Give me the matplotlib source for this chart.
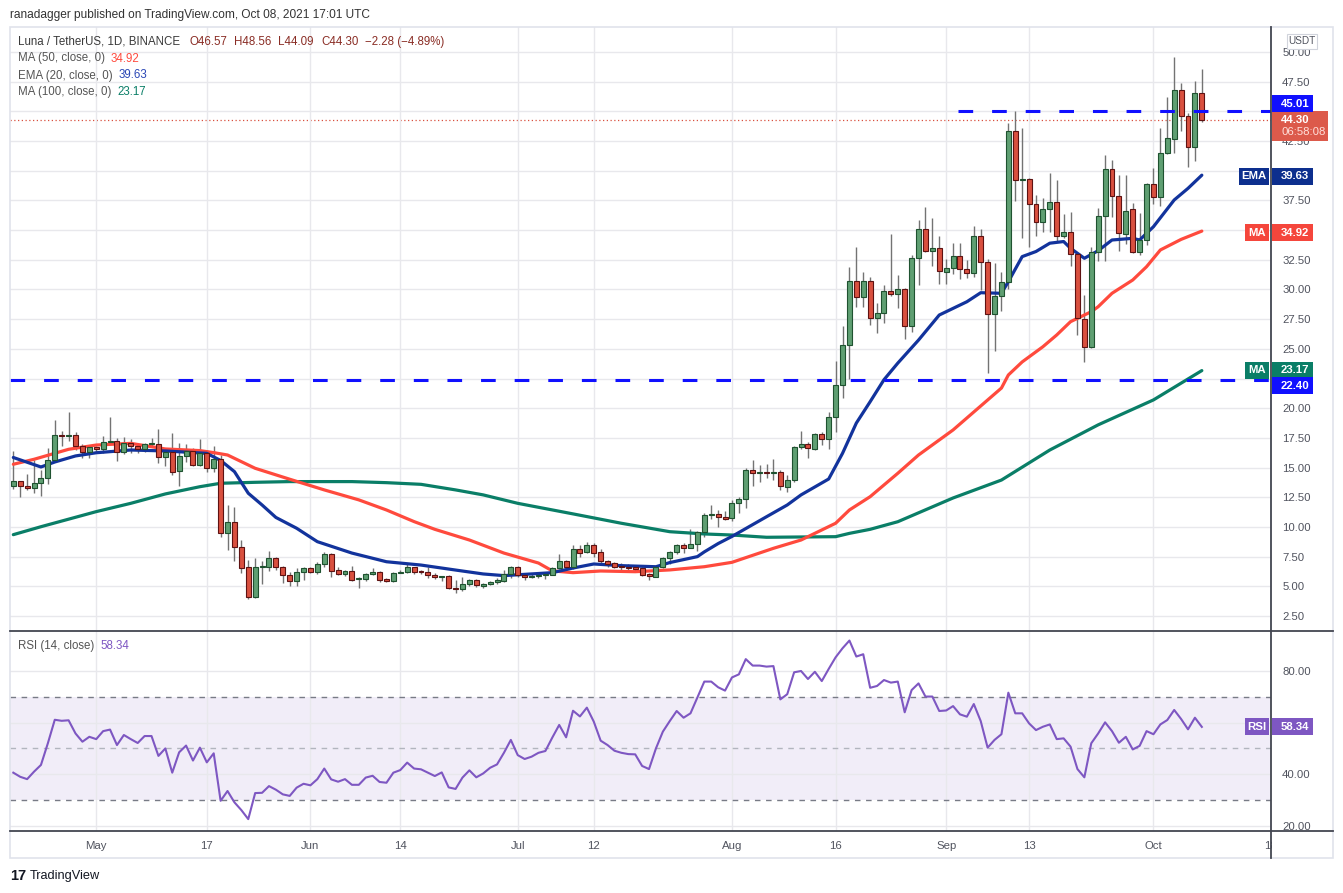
import matplotlib
matplotlib.use('Agg')
import matplotlib.pyplot as plt
from matplotlib.patches import Rectangle
from matplotlib.lines import Line2D
import numpy as np
import pandas as pd

W, H = 1343, 893
plt.rcParams['font.family'] = ['Liberation Sans', 'DejaVu Sans']

# daily candles, Apr 19 - Oct 8 2021
dates = pd.date_range('2021-04-19', '2021-10-08', freq='D')

opens = [13.42, 13.84, 13.42, 13.25, 13.67, 14.09, 15.61, 17.71, 17.63, 17.71,
         16.79, 16.28, 16.70, 16.54, 17.12, 17.27, 16.28, 17.04, 16.79, 16.54,
         16.96, 16.96, 15.86, 16.28, 14.68, 15.95, 16.37, 15.19, 16.20, 14.94,
         15.70, 9.46, 10.39, 8.29, 6.60, 4.08, 6.66, 6.66, 7.36, 6.66,
         5.96, 5.48, 6.18, 6.52, 6.24, 6.88, 7.70, 6.38, 6.01, 6.29,
         5.60, 5.59, 6.01, 6.18, 5.59, 5.48, 6.10, 6.18, 6.60, 6.24,
         6.24, 5.96, 5.76, 5.88, 4.83, 4.75, 5.17, 5.54, 5.06, 5.17,
         5.40, 5.48, 6.01, 6.63, 5.96, 5.82, 5.88, 5.93, 5.99, 6.52,
         7.10, 6.66, 8.12, 7.87, 8.45, 7.87, 7.10, 6.94, 6.74, 6.66,
         6.55, 6.55, 6.04, 5.82, 6.60, 7.36, 7.87, 8.45, 8.26, 8.54,
         9.55, 11.00, 11.07, 10.84, 10.72, 11.99, 12.33, 14.80, 14.56, 14.62,
         14.56, 14.60, 13.39, 13.95, 16.71, 16.99, 16.60, 17.83, 17.38, 19.23,
         21.96, 25.30, 30.74, 29.40, 30.69, 27.57, 28.00, 29.90, 29.60, 30.04,
         26.96, 32.63, 35.07, 33.27, 33.47, 31.50, 31.78, 32.82, 31.70, 31.36,
         34.50, 32.29, 27.91, 29.45, 30.60, 43.32, 39.22, 39.28, 37.17, 35.66,
         36.75, 37.40, 34.50, 34.81, 32.96, 27.49, 25.13, 33.19, 36.19, 40.12,
         37.87, 34.65, 36.75, 33.13, 34.17, 38.88, 37.76, 41.47, 42.70, 46.80,
         44.64, 42.00, 46.57]
highs = [16.40, 13.90, 14.46, 15.64, 14.80, 16.62, 19.00, 18.08, 19.68, 18.00,
         16.98, 16.80, 16.80, 17.66, 19.23, 17.46, 17.55, 17.43, 17.04, 17.10,
         17.46, 18.25, 16.48, 17.90, 17.07, 16.98, 16.62, 17.40, 16.48, 16.82,
         16.06, 11.85, 11.70, 8.90, 7.22, 7.36, 7.17, 7.98, 7.45, 6.72,
         6.18, 6.52, 6.66, 6.66, 7.08, 7.87, 7.78, 6.66, 6.38, 6.72,
         5.82, 6.15, 6.52, 6.29, 5.68, 6.24, 6.38, 6.94, 6.66, 6.38,
         6.60, 6.10, 5.88, 5.96, 5.54, 5.82, 5.59, 5.59, 5.25, 5.48,
         5.68, 6.38, 6.72, 6.72, 6.04, 6.04, 6.24, 6.24, 6.66, 7.73,
         7.22, 8.48, 8.48, 8.76, 8.62, 8.15, 7.22, 7.08, 6.99, 6.85,
         6.80, 6.66, 6.15, 6.66, 7.50, 7.98, 8.57, 8.62, 9.83, 9.69,
         11.15, 11.82, 11.43, 11.38, 12.27, 12.55, 14.94, 15.64, 15.22, 15.30,
         15.72, 14.80, 14.37, 16.85, 18.08, 17.13, 17.90, 18.02, 19.71, 24.00,
         26.93, 31.92, 33.60, 31.50, 31.08, 28.83, 30.38, 34.70, 31.20, 30.10,
         32.90, 35.85, 36.97, 36.00, 34.50, 32.54, 33.89, 33.89, 32.48, 35.35,
         35.10, 32.60, 32.20, 31.50, 43.99, 45.03, 43.57, 39.36, 38.00, 37.68,
         39.78, 39.22, 36.33, 36.53, 33.10, 29.54, 33.60, 36.83, 41.33, 40.90,
         39.64, 39.64, 37.26, 36.41, 39.00, 40.20, 43.57, 46.24, 49.60, 47.36,
         44.89, 47.59, 48.56]
lows = [13.17, 12.55, 13.10, 12.90, 12.63, 13.60, 15.60, 16.85, 17.20, 16.50,
        15.78, 15.78, 16.20, 16.20, 17.10, 15.58, 16.14, 16.20, 16.20, 16.34,
        16.85, 15.40, 15.16, 14.37, 13.48, 15.50, 15.13, 15.16, 14.65, 14.65,
        9.12, 8.10, 7.16, 6.10, 3.90, 4.00, 5.17, 6.32, 6.38, 5.31,
        5.06, 5.06, 5.54, 6.10, 6.04, 6.66, 5.82, 5.96, 5.90, 5.45,
        4.89, 5.45, 5.96, 5.40, 5.34, 5.40, 6.10, 6.10, 6.04, 6.04,
        5.68, 5.62, 5.48, 4.75, 4.47, 4.64, 5.06, 4.98, 4.83, 5.12,
        5.20, 5.40, 5.73, 5.82, 5.54, 5.68, 5.68, 5.59, 5.96, 6.43,
        6.38, 6.43, 7.45, 7.78, 7.50, 6.99, 6.60, 6.52, 6.24, 6.24,
        6.32, 5.88, 5.54, 5.76, 6.55, 6.88, 7.73, 7.78, 8.20, 8.00,
        9.13, 10.64, 10.03, 10.59, 10.53, 11.15, 11.60, 13.48, 13.76, 14.15,
        13.95, 13.10, 12.97, 13.76, 16.57, 15.84, 16.50, 16.90, 16.54, 18.03,
        20.83, 22.50, 28.55, 28.55, 27.00, 26.30, 27.20, 29.45, 28.40, 25.80,
        26.40, 30.38, 33.20, 31.98, 30.46, 30.46, 31.30, 30.88, 30.94, 31.08,
        29.96, 22.94, 24.85, 28.20, 30.00, 37.48, 34.30, 33.61, 34.53, 34.87,
        34.87, 34.03, 34.31, 31.98, 26.17, 23.92, 25.05, 32.43, 32.43, 36.13,
        33.27, 33.83, 33.05, 32.91, 33.75, 37.20, 37.06, 41.41, 41.52, 43.37,
        40.34, 40.85, 44.09]
closes = [13.87, 13.42, 13.25, 13.67, 14.09, 15.61, 17.71, 17.63, 17.71, 16.79,
          16.28, 16.70, 16.54, 17.12, 17.21, 16.28, 17.04, 16.79, 16.54, 16.96,
          16.99, 15.86, 16.28, 14.60, 15.95, 16.37, 15.19, 16.20, 14.94, 15.70,
          9.46, 10.39, 8.28, 6.52, 4.08, 6.66, 6.72, 7.36, 6.66, 5.96,
          5.48, 6.18, 6.52, 6.24, 6.88, 7.70, 6.32, 6.01, 6.29, 5.54,
          5.66, 6.01, 6.18, 5.54, 5.48, 6.10, 6.24, 6.60, 6.18, 6.18,
          5.96, 5.76, 5.82, 4.83, 4.75, 5.17, 5.54, 5.09, 5.17, 5.40,
          5.50, 6.01, 6.63, 5.93, 5.79, 5.88, 5.96, 6.04, 6.52, 7.10,
          6.66, 8.12, 7.84, 8.45, 7.84, 7.10, 6.88, 6.66, 6.60, 6.52,
          6.50, 5.96, 5.85, 6.60, 7.39, 7.90, 8.45, 8.26, 8.57, 9.55,
          11.01, 11.07, 10.87, 10.67, 11.99, 12.33, 14.80, 14.52, 14.62, 14.56,
          14.62, 13.42, 13.95, 16.71, 16.99, 16.63, 17.80, 17.38, 19.23, 21.96,
          25.30, 30.69, 29.40, 30.69, 27.57, 28.00, 29.90, 29.60, 30.04, 26.96,
          32.63, 35.07, 33.27, 33.47, 31.59, 31.78, 32.82, 31.70, 31.36, 34.50,
          32.34, 27.91, 29.45, 30.60, 43.32, 39.22, 39.28, 37.17, 35.66, 36.75,
          37.40, 34.50, 34.81, 32.99, 27.57, 25.13, 33.19, 36.19, 40.12, 37.87,
          34.79, 36.64, 33.13, 34.17, 38.88, 37.76, 41.47, 42.79, 46.80, 44.64,
          42.03, 46.58, 44.30]

rsi = [40.6, 39.0, 38.1, 41.0, 43.6, 52.0, 61.1, 60.7, 60.9, 55.8,
       52.6, 54.5, 53.6, 56.7, 57.3, 51.3, 55.2, 53.6, 52.1, 54.8,
       54.8, 47.1, 50.0, 40.6, 48.5, 51.1, 45.3, 50.3, 44.6, 48.1,
       29.7, 33.5, 29.1, 26.1, 22.6, 32.7, 32.8, 35.4, 34.0, 32.2,
       31.6, 34.8, 36.3, 35.7, 38.1, 42.2, 38.0, 37.1, 38.1, 35.9,
       35.9, 38.7, 39.4, 37.0, 36.7, 40.6, 41.6, 44.5, 42.2, 41.9,
       40.6, 39.3, 40.7, 34.9, 34.3, 38.7, 41.5, 38.8, 40.3, 42.5,
       43.8, 48.3, 53.3, 47.4, 45.9, 46.8, 48.3, 49.0, 54.2, 59.1,
       54.3, 64.6, 62.4, 65.8, 60.4, 53.0, 51.3, 49.1, 48.3, 47.8,
       47.7, 43.2, 42.0, 50.0, 56.5, 60.6, 64.5, 61.9, 63.6, 69.7,
       75.9, 75.9, 73.7, 72.4, 77.5, 78.7, 84.6, 82.1, 82.1, 81.7,
       81.9, 69.0, 71.0, 79.5, 80.0, 76.9, 79.7, 76.1, 80.8, 85.3,
       88.8, 91.8, 85.6, 86.5, 73.5, 74.2, 76.5, 75.5, 75.9, 64.0,
       72.6, 75.2, 70.1, 70.1, 64.5, 64.7, 66.4, 63.2, 62.3, 67.2,
       60.6, 50.3, 53.3, 55.5, 71.6, 63.6, 63.6, 59.7, 57.1, 58.4,
       59.3, 53.6, 53.9, 50.7, 42.0, 38.8, 52.0, 55.8, 60.1, 56.7,
       52.2, 54.5, 49.6, 51.0, 56.7, 55.5, 59.3, 61.0, 64.9, 61.4,
       57.4, 61.9, 58.34]

# moving averages (day index, value)
ema20_idx = [0, 4, 6, 9, 12, 17, 22, 28, 30, 32, 34, 36, 38, 41, 44, 49, 54, 59,
             64, 68, 71, 78, 81, 84, 88, 93, 95, 99, 100, 102, 104, 109, 112, 114,
             118, 120, 122, 124, 126, 128, 131, 134, 138, 140, 143, 144, 146, 148,
             150, 152, 153, 155, 157, 159, 162, 163, 165, 168, 170, 172]
ema20_val = [15.85, 15.05, 15.47, 15.98, 16.25, 16.48, 16.40, 16.20, 15.60, 14.66,
             12.84, 11.85, 10.80, 9.89, 8.76, 7.80, 7.07, 6.79, 6.37, 6.04,
             5.90, 6.15, 6.54, 6.88, 6.74, 6.65, 7.00, 7.50, 7.90, 8.60,
             9.20, 10.86, 11.85, 12.70, 14.04, 16.20, 18.75, 20.55, 22.40, 23.80,
             25.74, 27.85, 28.97, 29.73, 29.68, 30.66, 32.77, 33.20, 33.90, 34.04,
             33.47, 32.63, 33.27, 34.17, 34.31, 34.17, 35.29, 37.54, 38.52, 39.63]
ma50_idx = [0, 3, 8, 12, 17, 22, 27, 29, 31, 35, 40, 45, 50, 54, 58, 61, 66, 71,
            76, 78, 81, 85, 90, 95, 100, 104, 110, 114, 119, 121, 124, 128, 131,
            136, 143, 144, 146, 149, 151, 153, 156, 157, 159, 162, 164, 166, 169, 172]
ma50_val = [15.28, 15.70, 16.54, 16.90, 17.04, 16.57, 16.43, 16.26, 16.06, 14.94,
            14.02, 13.12, 12.28, 11.43, 10.45, 9.80, 8.90, 7.80, 6.96, 6.30,
            6.15, 6.29, 6.23, 6.38, 6.65, 7.02, 8.20, 8.90, 10.31, 11.43,
            12.55, 14.52, 16.06, 18.17, 21.70, 22.80, 23.90, 25.18, 26.17, 27.29,
            28.13, 28.55, 29.68, 30.80, 31.92, 33.33, 34.22, 34.92]
ma100_idx = [0, 4, 12, 17, 22, 27, 30, 35, 40, 49, 54, 59, 64, 68, 73, 81, 88, 95,
             100, 104, 109, 119, 121, 124, 128, 136, 143, 150, 157, 165, 172]
ma100_val = [9.35, 10.02, 11.29, 11.99, 12.78, 13.39, 13.68, 13.76, 13.82, 13.82,
             13.73, 13.59, 13.12, 12.70, 11.99, 11.10, 10.31, 9.60, 9.41, 9.32,
             9.13, 9.18, 9.46, 9.80, 10.44, 12.44, 13.95, 16.48, 18.60, 20.70, 23.17]

tick_idx = [12, 28, 43, 56, 73, 84, 104, 119, 135, 147, 165, 182]
tick_labels = ['May', '17', 'Jun', '14', 'Jul', '12', 'Aug', '16', 'Sep', '13', 'Oct', '18']
price_ticks = np.arange(2.5, 50.01, 2.5)
hidden_price_ticks = [22.5, 35.0, 40.0, 45.0]   # covered by the price tags
rsi_ticks = [20, 40, 60, 80]
hidden_rsi_ticks = [60]

resistance = 45.01
support = 22.40

GREEN, GREEN_EDGE = '#5f9f72', '#1f5230'
RED, RED_EDGE = '#d9503f', '#5e1212'
EMA_C, MA50_C, MA100_C = '#12339c', '#ff4a3d', '#0a7e67'
LEVEL_C = '#1010ff'
RSI_C = '#7e57c2'
GRID = '#e8e8ec'
TXT = '#50535e'
DARK = '#434651'

fig = plt.figure(figsize=(W / 100, H / 100), dpi=100)
fig.patch.set_facecolor('white')


def fx(x):
    return x / W


def fy(y):
    return 1 - y / H


ax = fig.add_axes([fx(10), fy(630), fx(1271) - fx(10), fy(27) - fy(630)])
rax = fig.add_axes([fx(10), fy(831), fx(1271) - fx(10), fy(631) - fy(831)], sharex=ax)

x = np.arange(len(dates))
o = np.array(opens)
c = np.array(closes)
up = c >= o
lo = np.minimum(o, c)
hgt = np.maximum(np.abs(c - o), 0.09)

# candles
ax.vlines(x, lows, highs, color='#737373', lw=1.0, zorder=2)
ax.bar(x[up], hgt[up], bottom=lo[up], width=0.72, color=GREEN,
       edgecolor=GREEN_EDGE, lw=0.8, zorder=3)
ax.bar(x[~up], hgt[~up], bottom=lo[~up], width=0.72, color=RED,
       edgecolor=RED_EDGE, lw=0.8, zorder=3)

# moving averages
ax.plot(ma100_idx, ma100_val, color=MA100_C, lw=2.3, zorder=2.5, solid_capstyle='round')
ax.plot(ma50_idx, ma50_val, color=MA50_C, lw=2.3, zorder=2.5, solid_capstyle='round')
ax.plot(ema20_idx, ema20_val, color=EMA_C, lw=2.3, zorder=2.5, solid_capstyle='round')

# horizontal levels
ax.plot([136.7, 182.1], [resistance, resistance], color=LEVEL_C, lw=2.2,
        dashes=(4.8, 6.2), zorder=4)
ax.plot([-0.5, 182.1], [support, support], color=LEVEL_C, lw=2.2,
        dashes=(4.8, 6.2), zorder=4)
ax.axhline(closes[-1], color=RED, lw=0.9, ls=(0, (1, 2)), zorder=1.5)

ax.set_xlim(-0.48, 182.01)
ax.set_ylim(1.32, 52.11)
ax.set_yticks(price_ticks, ['' if v in hidden_price_ticks else f'{v:.2f}' for v in price_ticks])
ax.yaxis.tick_right()
ax.tick_params(axis='y', length=0, pad=8, labelsize=8.2, colors=TXT)
ax.tick_params(axis='x', length=0, labelbottom=False)
ax.grid(True, color=GRID, lw=1, zorder=0)
for s in ax.spines.values():
    s.set_visible(False)

# RSI pane
rax.axhspan(30, 70, color=RSI_C, alpha=0.1, lw=0, zorder=0)
rax.axhline(70, color='#787b86', lw=1, dashes=(4, 4))
rax.axhline(30, color='#787b86', lw=1, dashes=(4, 4))
rax.axhline(50, color='#b2b5be', lw=1, dashes=(4, 4))
rax.plot(x, rsi, color=RSI_C, lw=1.5, zorder=3)
rax.set_ylim(18.0, 95.5)
rax.set_yticks(rsi_ticks, ['' if v in hidden_rsi_ticks else f'{v:.2f}' for v in rsi_ticks])
rax.yaxis.tick_right()
rax.tick_params(axis='y', length=0, pad=8, labelsize=8.2, colors=TXT)
rax.set_xticks(tick_idx, tick_labels)
rax.tick_params(axis='x', length=0, pad=7, labelsize=8.2, colors=TXT)
rax.grid(True, color=GRID, lw=1, zorder=0)
for s in rax.spines.values():
    s.set_visible(False)

# frame and pane separators
fig.add_artist(Rectangle((fx(10), fy(858)), fx(1333) - fx(10), fy(27) - fy(858),
                         transform=fig.transFigure, facecolor='none',
                         edgecolor='#e0e3eb', lw=1.2, zorder=1))
fig.add_artist(Rectangle((fx(1272), fy(857)), fx(1332) - fx(1272), fy(832) - fy(857),
                         transform=fig.transFigure, facecolor='white',
                         edgecolor='none', zorder=5))
for (x0, y0, x1, y1) in [(1271, 27, 1271, 858), (10, 630.5, 1333, 630.5),
                         (10, 831, 1333, 831)]:
    fig.add_artist(Line2D([fx(x0), fx(x1)], [fy(y0), fy(y1)], color=DARK, lw=1.3,
                          transform=fig.transFigure, zorder=6))


# price tags on the right scale
def price_y(axis, v):
    return H - axis.transData.transform((0, v))[1]


def tag(yc, color, text, name=None, h=17, size=8.2, x0=1272, x1=1313, tcol='white'):
    fig.add_artist(Rectangle((fx(x0), fy(yc + h / 2)), fx(x1) - fx(x0), h / H,
                             transform=fig.transFigure, facecolor=color,
                             edgecolor='none', zorder=10))
    fig.text(fx(1281), fy(yc), text, color=tcol, fontsize=size,
             fontweight='bold', ha='left', va='center', zorder=11)
    if name:
        nx0 = 1239 if name == 'EMA' else 1245
        fig.add_artist(Rectangle((fx(nx0), fy(yc + h / 2)), fx(1269) - fx(nx0), h / H,
                                 transform=fig.transFigure, facecolor=color,
                                 edgecolor='none', zorder=10))
        fig.text(fx((nx0 + 1269) / 2), fy(yc), name, color='white', fontsize=size,
                 fontweight='bold', ha='center', va='center', zorder=11)


y_last = price_y(ax, closes[-1])
fig.add_artist(Rectangle((fx(1272), fy(y_last + 21)), fx(1328) - fx(1272), 30 / H,
                         transform=fig.transFigure, facecolor='#dc5a4b',
                         edgecolor='none', zorder=10))
fig.text(fx(1281), fy(y_last), f'{closes[-1]:.2f}', color='white', fontsize=8.2,
         fontweight='bold', ha='left', va='center', zorder=11)
fig.text(fx(1281), fy(y_last + 12.5), '06:58:08', color='#ffe0db', fontsize=8.2,
         ha='left', va='center', zorder=11)
tag(price_y(ax, resistance) - 7.5, LEVEL_C, f'{resistance:.2f}')
tag(price_y(ax, ema20_val[-1]) + 1, '#0d2f8e', f'{ema20_val[-1]:.2f}', 'EMA')
tag(price_y(ax, ma50_val[-1]) + 1.5, '#f5463c', f'{ma50_val[-1]:.2f}', 'MA')
tag(price_y(ax, ma100_val[-1]) - 0.5, MA100_C, f'{ma100_val[-1]:.2f}', 'MA')
tag(price_y(ax, support) + 6, LEVEL_C, f'{support:.2f}')
tag(price_y(rax, rsi[-1]), RSI_C, f'{rsi[-1]:.2f}', 'RSI')

# USDT unit box
fig.add_artist(Rectangle((fx(1287), fy(49)), fx(1317) - fx(1287), 15 / H,
                         transform=fig.transFigure, facecolor='white',
                         edgecolor='#d1d4dc', lw=0.8, zorder=10))
fig.text(fx(1302), fy(41.5), 'USDT', color=TXT, fontsize=7.2, ha='center',
         va='center', zorder=11)

# legends
renderer = fig.canvas.get_renderer()


def chain(parts, x0, y, size=8.3):
    xx = x0
    for s, col, gap in parts:
        t = fig.text(fx(xx), fy(y), s, color=col, fontsize=size, ha='left', va='center')
        bb = t.get_window_extent(renderer)
        xx = bb.x1 + gap


fig.text(fx(10), fy(15), 'ranadagger published on TradingView.com, Oct 08, 2021 17:01 UTC',
         color='#333333', fontsize=8.6, ha='left', va='center')

chg = closes[-1] - closes[-2]
pct = chg / closes[-2] * 100
VAL = '#8a2d25'
chain([('Luna / TetherUS, 1D, BINANCE', '#3a3a3a', 9),
       (f'O{opens[-1]:.2f}', VAL, 7), (f'H{highs[-1]:.2f}', VAL, 7),
       (f'L{lows[-1]:.2f}', VAL, 7), (f'C{closes[-1]:.2f}', VAL, 7),
       (f'\u2212{abs(chg):.2f} (\u2212{abs(pct):.2f}%)', VAL, 0)], 18, 42)
chain([('MA (50, close, 0)', '#555555', 6), (f'{ma50_val[-1]:.2f}', MA50_C, 0)], 18, 58.5)
chain([('EMA (20, close, 0)', '#555555', 6), (f'{ema20_val[-1]:.2f}', '#2a47b5', 0)], 18, 75.5)
chain([('MA (100, close, 0)', '#555555', 6), (f'{ma100_val[-1]:.2f}', MA100_C, 0)], 18, 92)
chain([('RSI (14, close)', '#555555', 6), (f'{rsi[-1]:.2f}', RSI_C, 0)], 18, 646)

# footer logo
fig.text(fx(10), fy(876), '17', color='#131722', fontsize=10.5, fontweight='heavy',
         ha='left', va='center')
fig.text(fx(30), fy(876), 'TradingView', color='#131722', fontsize=9.2,
         ha='left', va='center')

fig.savefig('out.png', dpi=100)
